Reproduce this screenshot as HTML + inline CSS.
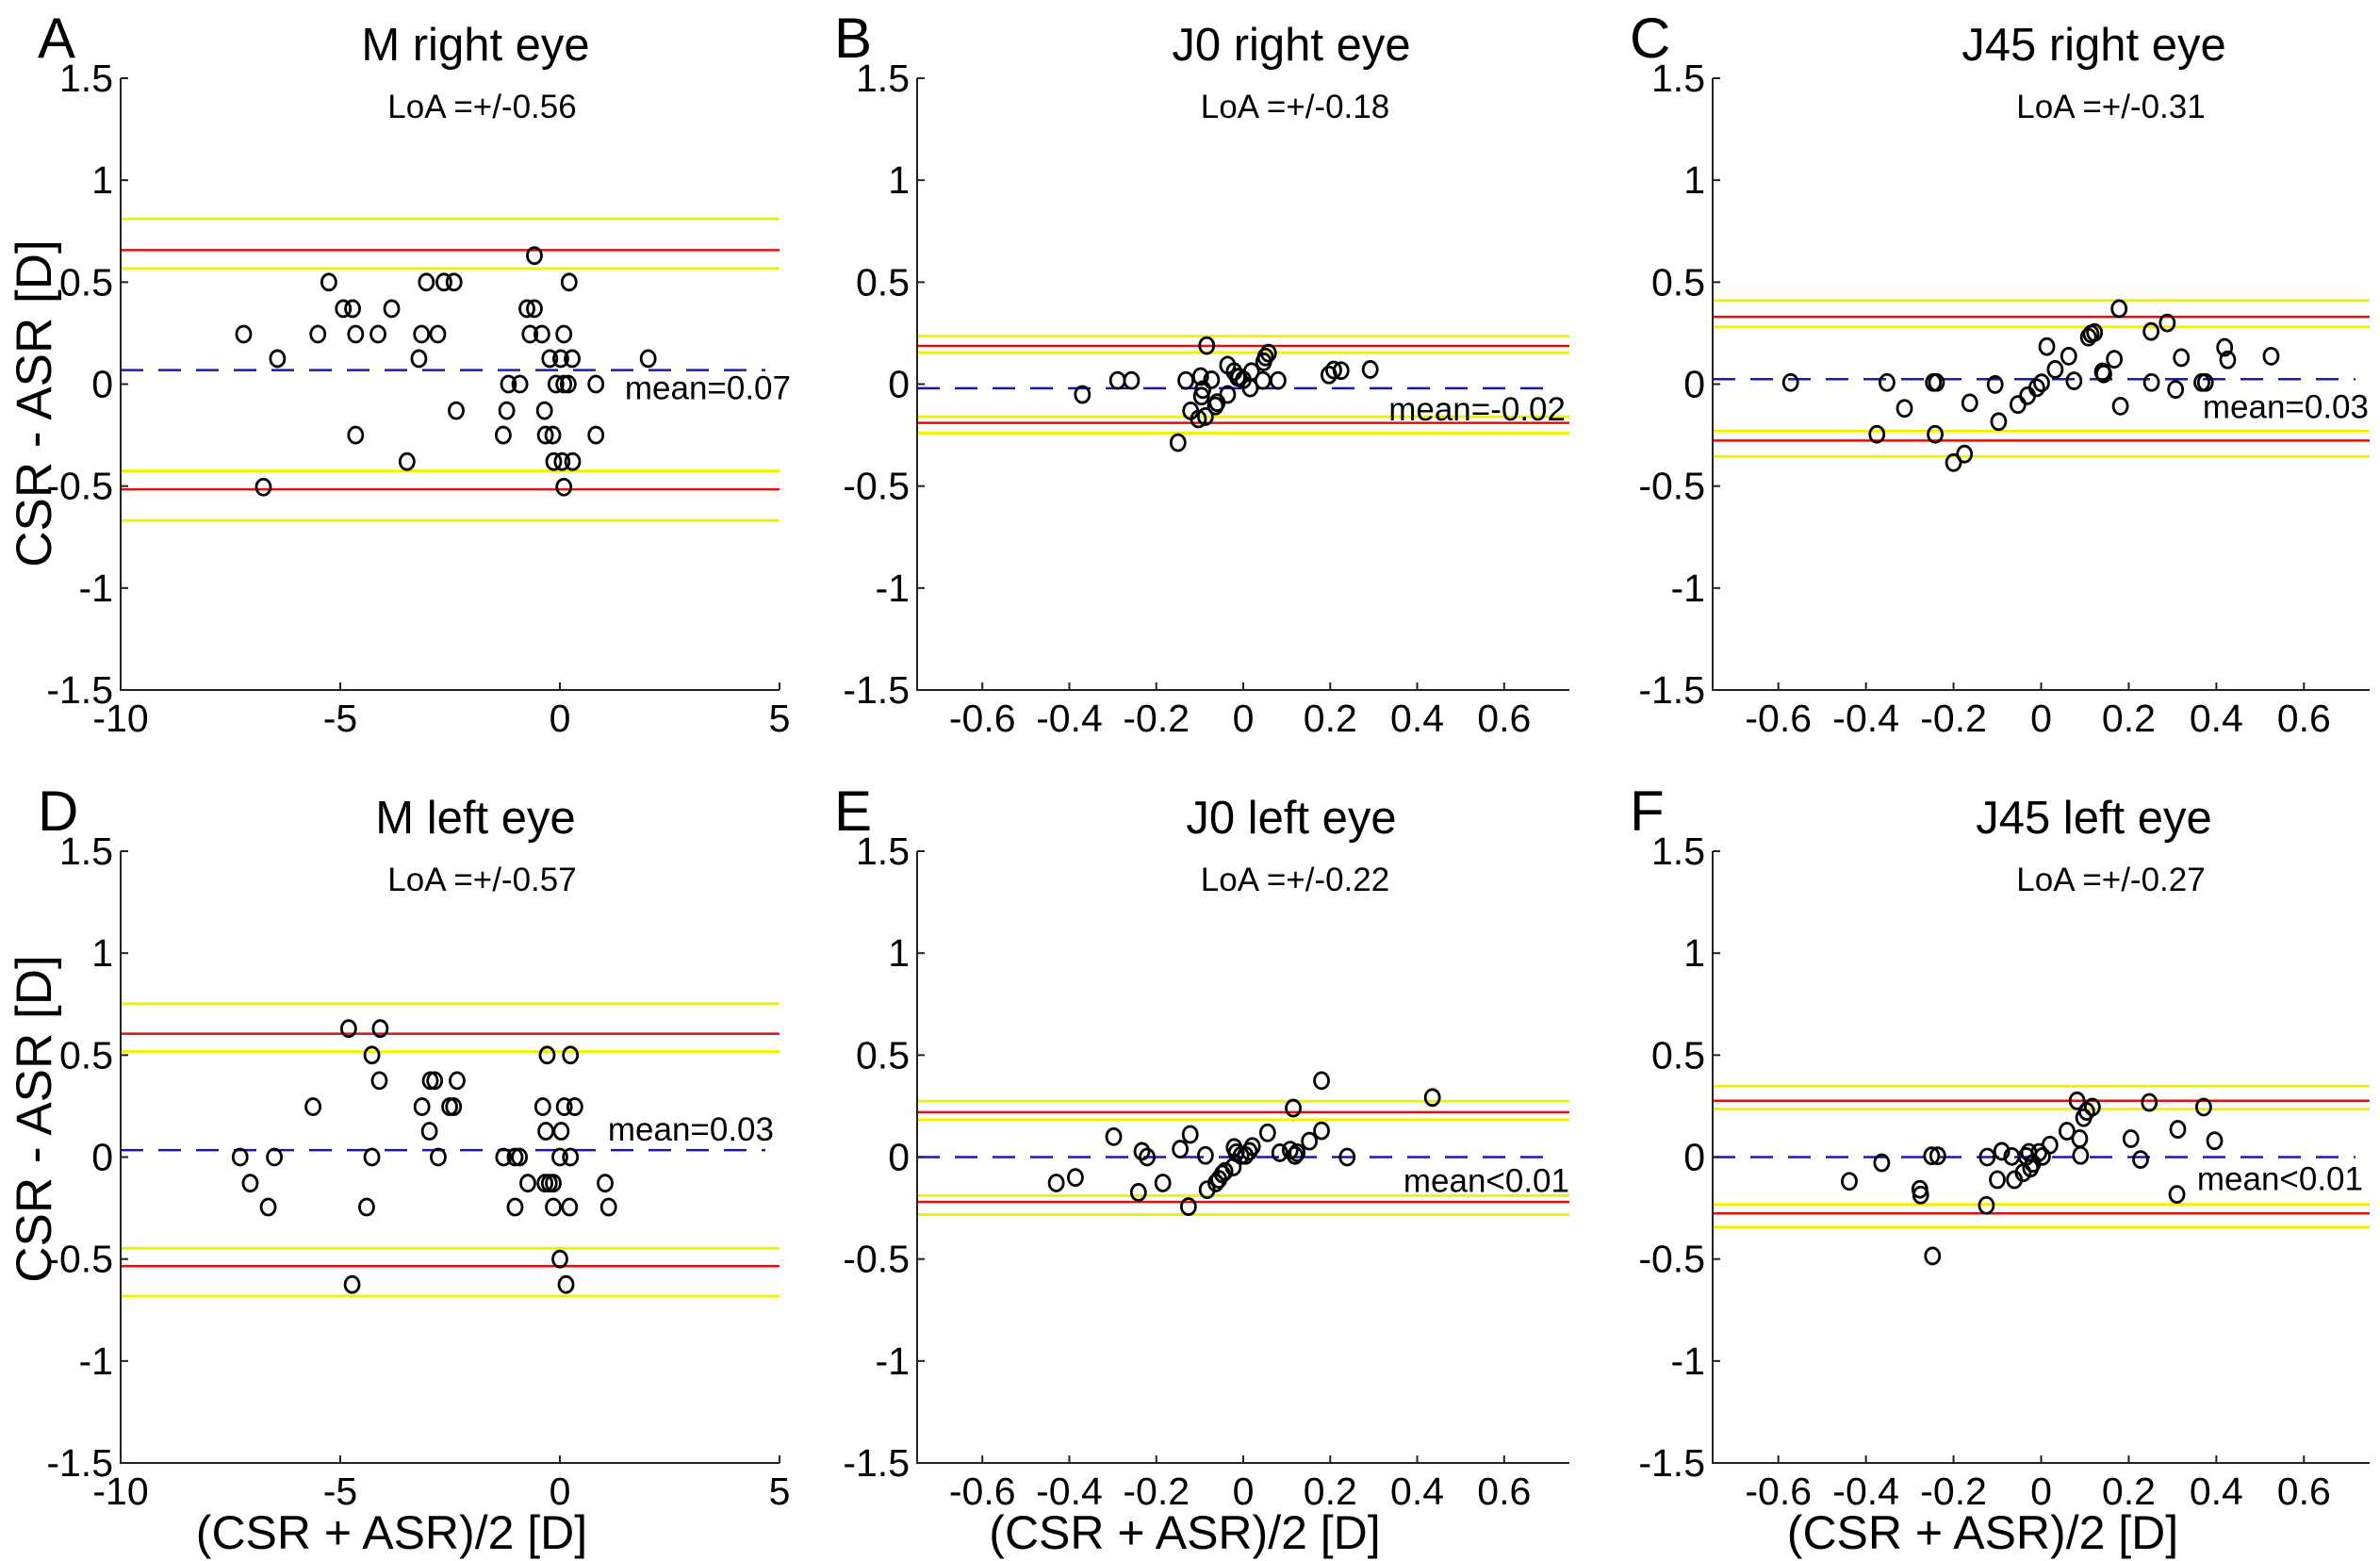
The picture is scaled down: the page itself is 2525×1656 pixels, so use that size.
<!DOCTYPE html>
<html><head><meta charset="utf-8"><style>
html,body{margin:0;padding:0;background:#fff}
svg{display:block;font-family:"Liberation Sans",Arial,sans-serif}
</style></head><body>
<svg id="fig" width="2525" height="1656" viewBox="0 0 2525 1656" xmlns="http://www.w3.org/2000/svg"></svg>
<script>
// ---- data ----
const panelLetters = ["A","B","C","D","E","F"];
const panelTitles = ["M right eye","J0 right eye","J45 right eye","M left eye","J0 left eye","J45 left eye"];
const loaLabels = ["LoA =+/-0.56","LoA =+/-0.18","LoA =+/-0.31","LoA =+/-0.57","LoA =+/-0.22","LoA =+/-0.27"];
const meanLabels = ["mean=0.07","mean=-0.02","mean=0.03","mean=0.03","mean<0.01","mean<0.01"];
const meanVals = [0.069, -0.02, 0.024, 0.034, 0.0, 0.0];
const redUpper = [0.657, 0.187, 0.33, 0.605, 0.22, 0.276];
const redLower = [-0.516, -0.19, -0.277, -0.535, -0.22, -0.276];
const yellowUpper = [[0.81,0.567],[0.235,0.155],[0.41,0.28],[0.752,0.517],[0.274,0.183],[0.348,0.235]];
const yellowLower = [[-0.426,-0.669],[-0.16,-0.24],[-0.23,-0.355],[-0.447,-0.682],[-0.189,-0.282],[-0.232,-0.344]];
const yTicks = [-1.5,-1,-0.5,0,0.5,1,1.5];
const yTickLabels = ["-1.5","-1","-0.5","0","0.5","1","1.5"];
const mTicks = [-10,-5,0,5];
const mTickLabels = ["-10","-5","0","5"];
const jTicks = [-0.6,-0.4,-0.2,0,0.2,0.4,0.6];
const jTickLabels = ["-0.6","-0.4","-0.2","0","0.2","0.4","0.6"];

const aX = [-7.2,-6.43,-6.75,-5.51,-5.26,-4.93,-4.72,-4.65,-4.65,-4.14,-3.83,-3.48,-3.21,-3.15,-3.04,-2.78,-2.64,-2.41,-2.36,-1.29,-1.21,-1.17,-0.91,-0.58,-0.75,-0.58,-0.68,-0.41,-0.35,-0.33,-0.16,-0.23,-0.14,-0.09,0.02,0.05,0.09,0.09,0.09,0.21,0.19,0.28,0.29,0.82,0.82,2.01];
const aY = [0.245,0.125,-0.505,0.245,0.5,0.37,0.37,0.245,-0.25,0.245,0.37,-0.38,0.125,0.245,0.5,0.245,0.5,0.5,-0.13,-0.25,-0.13,0,0,0.63,0.37,0.37,0.245,0.245,-0.13,-0.25,-0.25,0.125,-0.38,0,0.125,-0.38,0.245,0,-0.505,0.5,0,0.125,-0.38,0,-0.25,0.125];
const bX = [-0.37,-0.289,-0.257,-0.15,-0.132,-0.121,-0.103,-0.098,-0.096,-0.093,-0.084,-0.087,-0.073,-0.064,-0.06,-0.036,-0.036,-0.021,-0.013,-0.01,0,0.016,0.019,0.045,0.047,0.051,0.058,0.08,0.197,0.208,0.225,0.292];
const bY = [-0.051,0.018,0.018,-0.287,0.018,-0.131,-0.171,0.037,-0.059,-0.027,0.189,-0.159,0.021,-0.107,-0.091,-0.051,0.093,0.061,0.034,0.034,0.021,-0.019,0.061,0.018,0.109,0.133,0.152,0.018,0.045,0.069,0.066,0.072];
const cX = [-0.572,-0.352,-0.312,-0.375,-0.246,-0.239,-0.242,-0.2,-0.175,-0.163,-0.105,-0.097,-0.053,-0.031,-0.01,0.001,0.013,0.032,0.063,0.075,0.108,0.114,0.122,0.14,0.143,0.167,0.178,0.181,0.251,0.252,0.288,0.307,0.32,0.367,0.375,0.419,0.426,0.525];
const cY = [0.008,0.008,-0.119,-0.246,0.008,0.008,-0.246,-0.385,-0.343,-0.092,-0.002,-0.184,-0.1,-0.057,-0.018,0.006,0.184,0.072,0.137,0.016,0.23,0.246,0.253,0.06,0.05,0.122,0.37,-0.108,0.258,0.008,0.3,-0.026,0.13,0.008,0.008,0.18,0.119,0.137];
const dX = [-4.81,-4.09,-4.28,-4.11,-5.62,-7.28,-6.5,-7.05,-6.64,-4.28,-4.4,-4.73,-3.14,-2.97,-2.95,-2.85,-2.34,-2.51,-2.42,-2.77,-1.28,-1.02,-0.92,-1.02,-0.73,-0.39,-0.29,-0.32,0.03,-0.34,-0.24,-0.15,-0.15,0,0,0.1,0.24,0.34,0.24,0.22,0.14,1.03,1.11];
const dY = [0.63,0.63,0.5,0.375,0.247,0,0,-0.128,-0.245,0,-0.245,-0.625,0.247,0.127,0.375,0.375,0.375,0.247,0.247,0,0,0,0,-0.245,-0.128,0.247,0.5,0.127,0.127,-0.128,-0.128,-0.128,-0.245,0,-0.5,0.247,0.5,0.247,0,-0.245,-0.625,-0.128,-0.245];
const eX = [-0.43,-0.386,-0.298,-0.241,-0.233,-0.221,-0.185,-0.145,-0.126,-0.122,-0.087,-0.083,-0.063,-0.056,-0.048,-0.042,-0.023,-0.021,-0.016,-0.005,0.005,0.014,0.021,0.056,0.084,0.108,0.115,0.119,0.124,0.152,0.18,0.18,0.239,0.435];
const eY = [-0.127,-0.1,0.1,-0.173,0.028,0,-0.127,0.039,-0.243,0.111,0.008,-0.16,-0.127,-0.109,-0.083,-0.07,-0.049,0.047,0.021,0.008,0.008,0.028,0.052,0.119,0.021,0.034,0.24,0.008,0.021,0.078,0.375,0.129,0,0.292];
const fX = [-0.438,-0.364,-0.277,-0.275,-0.25,-0.236,-0.248,-0.125,-0.123,-0.1,-0.09,-0.067,-0.061,-0.041,-0.034,-0.028,-0.024,-0.019,-0.005,0.003,0.02,0.059,0.082,0.088,0.09,0.097,0.104,0.117,0.205,0.227,0.247,0.312,0.31,0.371,0.396];
const fY = [-0.119,-0.028,-0.158,-0.186,0.006,0.006,-0.485,-0.237,0,-0.111,0.028,0.003,-0.111,-0.077,0.003,0.023,-0.054,-0.031,0.023,0.003,0.059,0.127,0.276,0.09,0.008,0.193,0.224,0.245,0.09,-0.012,0.268,0.136,-0.183,0.245,0.08];
const seriesX = [aX,bX,cX,dX,eX,fX];
const seriesY = [aY,bY,cY,dY,eY,fY];

// ---- layout ----
const NS = "http://www.w3.org/2000/svg";
const svg = document.getElementById("fig");
const colL = [128, 973, 1817], colWs = [699, 692, 697];
const rowT = [83, 903], rowH = 649;
const titleOff = [27, 51, 56];
const loaOff = [34, 55, 74];
const yLabelCY = [428, 1187];
const meanOffY = [31, 34, 41, -10, 37, 35];
const meanOffX = [12, -4, -1, -6, 0, -7];
function mk(tag, attrs, parent){ const e=document.createElementNS(NS,tag); for(const k in attrs) e.setAttribute(k,attrs[k]); (parent||svg).appendChild(e); return e; }
function txt(s, attrs, parent){ const t=mk("text",attrs,parent); t.textContent=s; return t; }

for(let p=0;p<6;p++){
  const c=p%3, r=Math.floor(p/3);
  const L=colL[c], R=L+colWs[c], T=rowT[r], B=T+rowH;
  const isM = (c===0);
  const xmin = isM?-10:-0.75, xmax = isM?5:0.75;
  const xs = v => L + (v-xmin)/(xmax-xmin)*(R-L);
  const ys = v => B - (v+1.5)/3*(B-T);
  const g = mk("g",{});
  
  

  const let_ = txt(panelLetters[p],{x:L-88,y:T-22,"font-size":60,fill:"#000"},g);
  
  
  const tt = txt(panelTitles[p],{x:(L+R)/2+titleOff[c],y:T-19,"font-size":49,"text-anchor":"middle",fill:"#000"},g);
  
  
  const lo = txt(loaLabels[p],{x:(L+R)/2+loaOff[c],y:T+42,"font-size":35,"text-anchor":"middle",fill:"#000"},g);
  
  

  yellowUpper[p].concat(yellowLower[p]).forEach(v=>{
    const l=mk("line",{x1:L,x2:R,y1:ys(v),y2:ys(v),stroke:"#f2f200","stroke-width":3},g);
    
    
  });
  [redUpper[p],redLower[p]].forEach(v=>{
    const l=mk("line",{x1:L,x2:R,y1:ys(v),y2:ys(v),stroke:"#e01010","stroke-width":2.5},g);
    
    
  });
  const ml=mk("line",{x1:L,x2:R-15,y1:ys(meanVals[p]),y2:ys(meanVals[p]),stroke:"#1a1ab0","stroke-width":2.5,"stroke-dasharray":"24 16"},g);
  
  
  const mt = txt(meanLabels[p],{x:R+meanOffX[p],y:ys(meanVals[p])+meanOffY[p],"font-size":35,"text-anchor":"end",fill:"#000"},g);
  
  

  const ax=mk("path",{d:`M${L},${T} L${L},${B} L${R},${B}`,fill:"none",stroke:"#222","stroke-width":2},g);
  
  
  yTicks.forEach((v,i)=>{
    const y=ys(v);
    mk("line",{x1:L,x2:L+8,y1:y,y2:y,stroke:"#222","stroke-width":2},g);
    const t=txt(yTickLabels[i],{x:L-8,y:y+14,"font-size":41,"text-anchor":"end",fill:"#000"},g);
    
    
  });
  const xt = isM?mTicks:jTicks, xl = isM?mTickLabels:jTickLabels;
  xt.forEach((v,i)=>{
    const x=xs(v);
    mk("line",{x1:x,x2:x,y1:B,y2:B-8,stroke:"#222","stroke-width":2},g);
    const t=txt(xl[i],{x:x,y:B+44,"font-size":41,"text-anchor":"middle",fill:"#000"},g);
    
    
  });

  const X=seriesX[p], Y=seriesY[p];
  for(let i=0;i<X.length;i++){
    const pt=mk("ellipse",{cx:xs(X[i]),cy:ys(Y[i]),rx:7.5,ry:8.5,fill:"none",stroke:"#000","stroke-width":2.8},g);
    
    
  }

  if(c===0){
    const cy=yLabelCY[r];
    const yl=txt("CSR - ASR [D]",{x:54,y:cy,"font-size":53,"text-anchor":"middle",fill:"#000",transform:`rotate(-90 54 ${cy})`},g);
    
    
  }
  if(r===1){
    const xl2=txt("(CSR + ASR)/2 [D]",{x:(L+R)/2-62,y:1643,"font-size":50,"text-anchor":"middle",fill:"#000"},g);
    
    
  }
}
</script>
</body></html>
